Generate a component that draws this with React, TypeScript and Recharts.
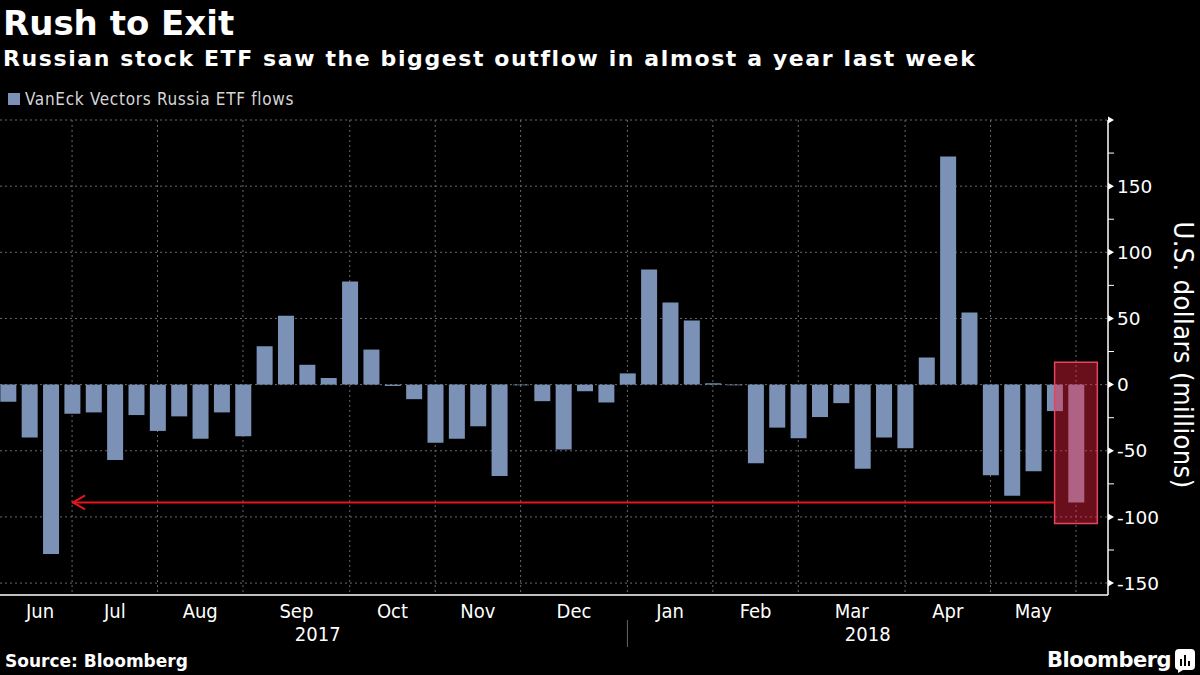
import React from 'react';
import {
  BarChart,
  Bar,
  XAxis,
  YAxis,
  CartesianGrid,
  ReferenceArea,
  ReferenceLine,
} from 'recharts';

// weekly flows, US$ millions, first week ends 2017-06-16
const firstWeek = '2017-06-16';
const flows = [
  -13, -40, -128, -22, -21, -57, -23, -35, -24, -41, -21, -39,
  29, 52, 15, 5, 78, 26.5, -1, -11, -44, -41, -31.5, -69,
  -0.5, -12.5, -49, -5, -13.5, 8.5, 87, 62, 48.5, 1, -0.5, -59.5,
  -32.5, -40.5, -24.5, -14, -63.5, -40, -48, 20.5, 172.5, 54.5, -68.5, -84,
  -65.5, -20, -89,
];
const monthNames = ['Jan', 'Feb', 'Mar', 'Apr', 'May', 'Jun', 'Jul', 'Aug', 'Sep', 'Oct', 'Nov', 'Dec'];
const yTicks = [-150, -125, -100, -75, -50, -25, 0, 25, 50, 75, 100, 125, 150, 175, 200];
const gridY = [-150, -100, -50, 0, 50, 100, 150, 200];

const X_MIN = -0.375;
const X_MAX = 51.5;
const Y_MIN = -159;
const Y_MAX = 200;
const HIGHLIGHT_TOP = 17;
const HIGHLIGHT_BOTTOM = -105;
const ARROW_FROM = 3;

const DAY = 86400000;
const start = Date.parse(firstWeek + 'T00:00:00Z');
const weeks = flows.map((flow, i) => ({ i, date: new Date(start + i * 7 * DAY), flow }));

// first week of each new month
const boundaries = weeks
  .filter((w, k) => k > 0 && w.date.getUTCMonth() !== weeks[k - 1].date.getUTCMonth())
  .map((w) => w.i);
const segStarts = [0, ...boundaries];
const monthTicks = boundaries.map((b, k) => ({
  pos: (segStarts[k] + b) / 2,
  label: monthNames[weeks[segStarts[k]].date.getUTCMonth()],
}));
const janIdx = boundaries.find((b) => weeks[b].date.getUTCMonth() === 0) as number;
const yearTicks = [
  { pos: janIdx / 2, label: '2017' },
  { pos: janIdx, label: '' },
  { pos: (janIdx + X_MAX) / 2, label: '2018' },
];

const last = weeks[weeks.length - 1];

const tickFont = '"DejaVu Sans Condensed", "Liberation Sans Narrow", "DejaVu Sans", sans-serif';
const plainFont = '"DejaVu Sans", sans-serif';
const boldFont = '"DejaVu Sans", Verdana, sans-serif';

// vertical grid at month starts, through the x axis scale
const monthGrid = ({ xAxis, offset }: any) => {
  const s = xAxis && xAxis.scale;
  return boundaries.map((b) =>
    typeof s === 'function' ? s(b) : offset.left + ((b - X_MIN) / (X_MAX - X_MIN)) * offset.width
  );
};

const MonthTick = (props: any) => {
  const { x, y, payload } = props;
  const m = monthTicks.find((t) => t.pos === payload.value);
  return (
    <text x={x} y={y} dy={16} textAnchor="middle" fill="#fff" fontSize={20} fontFamily={tickFont}>
      {m ? m.label : ''}
    </text>
  );
};

const YearTick = (props: any) => {
  const { x, y, payload } = props;
  const t = yearTicks.find((d) => d.pos === payload.value);
  if (!t) return <g />;
  if (t.label === '') {
    return <line x1={x} x2={x} y1={y - 6} y2={y + 21} stroke="#666" strokeWidth={1} />;
  }
  return (
    <text x={x} y={y} dy={15} textAnchor="middle" fill="#fff" fontSize={20} fontFamily={tickFont}>
      {t.label}
    </text>
  );
};

const YTick = (props: any) => {
  const { x, y, payload } = props;
  const v = payload.value;
  if (v % 50 !== 0) {
    return <line x1={x} x2={x + 6} y1={y} y2={y} stroke="#fff" strokeWidth={1} />;
  }
  return (
    <g>
      <polygon points={`${x},${y - 3.5} ${x + 6},${y} ${x},${y + 3.5}`} fill="#fff" />
      {v !== 200 && (
        <text x={x + 9} y={y} dy="0.36em" fill="#fff" fontSize={18.5} fontFamily={plainFont}>
          {v < 0 ? `-${Math.abs(v)}` : v}
        </text>
      )}
    </g>
  );
};

const ArrowShape = (props: any) => {
  const { x1, y1, x2, y2 } = props;
  const left = Math.min(x1, x2);
  const right = Math.max(x1, x2);
  const y = y1 ?? y2;
  return (
    <g>
      <line x1={left} x2={right} y1={y} y2={y} stroke="#e8141e" strokeWidth={2} />
      <polyline
        points={`${left + 13},${y - 7} ${left + 1},${y} ${left + 13},${y + 7}`}
        fill="none"
        stroke="#e8141e"
        strokeWidth={2}
      />
    </g>
  );
};

export default function App() {
  return (
    <div
      style={{
        position: 'absolute',
        left: 0,
        top: 0,
        width: 1200,
        height: 675,
        background: '#000',
        overflow: 'hidden',
        color: '#fff',
      }}
    >
      <div style={{ position: 'absolute', left: 3, top: 0, fontFamily: boldFont, fontWeight: 700, fontSize: 34, lineHeight: '46px' }}>
        Rush to Exit
      </div>
      <div
        style={{
          position: 'absolute',
          left: 3,
          top: 45,
          fontFamily: boldFont,
          fontWeight: 700,
          fontSize: 22,
          letterSpacing: 1.6,
          lineHeight: '28px',
          whiteSpace: 'nowrap',
        }}
      >
        Russian stock ETF saw the biggest outflow in almost a year last week
      </div>
      <div style={{ position: 'absolute', left: 8, top: 89, display: 'flex', alignItems: 'center', gap: 5 }}>
        <div style={{ width: 12, height: 12, background: '#7b92b6' }} />
        <span style={{ fontFamily: tickFont, fontSize: 17, letterSpacing: 0.7, color: '#d6d6d6' }}>
          VanEck Vectors Russia ETF flows
        </span>
      </div>

      <div style={{ position: 'absolute', left: 0, top: 0 }}>
        <BarChart width={1200} height={675} data={weeks} margin={{ top: 120, right: 0, bottom: 0, left: 0 }} barSize={16}>
          <CartesianGrid
            xAxisId="main"
            yAxisId="y"
            horizontalValues={gridY}
            verticalCoordinatesGenerator={monthGrid}
            stroke="#6a6a6a"
            strokeDasharray="2 3"
          />
          <XAxis
            xAxisId="main"
            type="number"
            dataKey="i"
            domain={[X_MIN, X_MAX]}
            allowDataOverflow
            ticks={boundaries}
            interval={0}
            tick={false}
            tickSize={5}
            height={7}
            axisLine={{ stroke: '#fff', strokeWidth: 1.5 }}
            tickLine={{ stroke: '#fff' }}
          />
          <XAxis
            xAxisId="month"
            type="number"
            dataKey="i"
            domain={[X_MIN, X_MAX]}
            allowDataOverflow
            ticks={monthTicks.map((m) => m.pos)}
            interval={0}
            axisLine={false}
            tickLine={false}
            tickSize={0}
            tickMargin={0}
            height={24}
            tick={(p: any) => <MonthTick {...p} />}
          />
          <XAxis
            xAxisId="year"
            type="number"
            dataKey="i"
            domain={[X_MIN, X_MAX]}
            allowDataOverflow
            ticks={yearTicks.map((t) => t.pos)}
            interval={0}
            axisLine={false}
            tickLine={false}
            tickSize={0}
            tickMargin={0}
            height={49}
            tick={(p: any) => <YearTick {...p} />}
          />
          <YAxis
            yAxisId="y"
            orientation="right"
            width={92}
            domain={[Y_MIN, Y_MAX]}
            allowDataOverflow
            ticks={yTicks}
            interval={0}
            axisLine={{ stroke: '#fff', strokeWidth: 1.5 }}
            tickLine={false}
            tickSize={0}
            tickMargin={0}
            tick={(p: any) => <YTick {...p} />}
          />
          <Bar xAxisId="main" yAxisId="y" dataKey="flow" fill="#7b92b6" isAnimationActive={false} />
          <ReferenceArea
            xAxisId="main"
            yAxisId="y"
            x1={last.i - 1}
            x2={last.i + 1}
            y1={HIGHLIGHT_BOTTOM}
            y2={HIGHLIGHT_TOP}
            fill="rgb(244,35,65)"
            fillOpacity={0.43}
            stroke="#e5455e"
            strokeWidth={1.5}
            zIndex={350}
          />
          <ReferenceLine
            xAxisId="main"
            yAxisId="y"
            segment={[
              { x: ARROW_FROM, y: last.flow },
              { x: last.i - 1, y: last.flow },
            ]}
            shape={(p: any) => <ArrowShape {...p} />}
            zIndex={360}
          />
        </BarChart>
      </div>

      <div
        style={{
          position: 'absolute',
          left: 1183,
          top: 355,
          transform: 'translate(-50%, -50%) rotate(90deg)',
          whiteSpace: 'nowrap',
          fontFamily: tickFont,
          fontSize: 27,
          letterSpacing: 0.4,
          color: '#fff',
        }}
      >
        U.S. dollars (millions)
      </div>

      <div style={{ position: 'absolute', left: 5, top: 650, fontFamily: boldFont, fontWeight: 700, fontSize: 17, lineHeight: '22px' }}>
        Source: Bloomberg
      </div>
      <div style={{ position: 'absolute', left: 1047, top: 645, fontFamily: boldFont, fontWeight: 700, fontSize: 21, lineHeight: '30px', letterSpacing: -0.5 }}>
        Bloomberg
      </div>
      <svg style={{ position: 'absolute', left: 1175, top: 649 }} width={20} height={24}>
        <rect x={0} y={0} width={20} height={21} rx={4} fill="#fff" />
        <polygon points="3,21 8,21 3,24" fill="#fff" />
        <rect x={5} y={10} width={2} height={7} fill="#000" />
        <rect x={9} y={6} width={2} height={11} fill="#000" />
        <rect x={13} y={12} width={2} height={5} fill="#000" />
      </svg>
    </div>
  );
}
